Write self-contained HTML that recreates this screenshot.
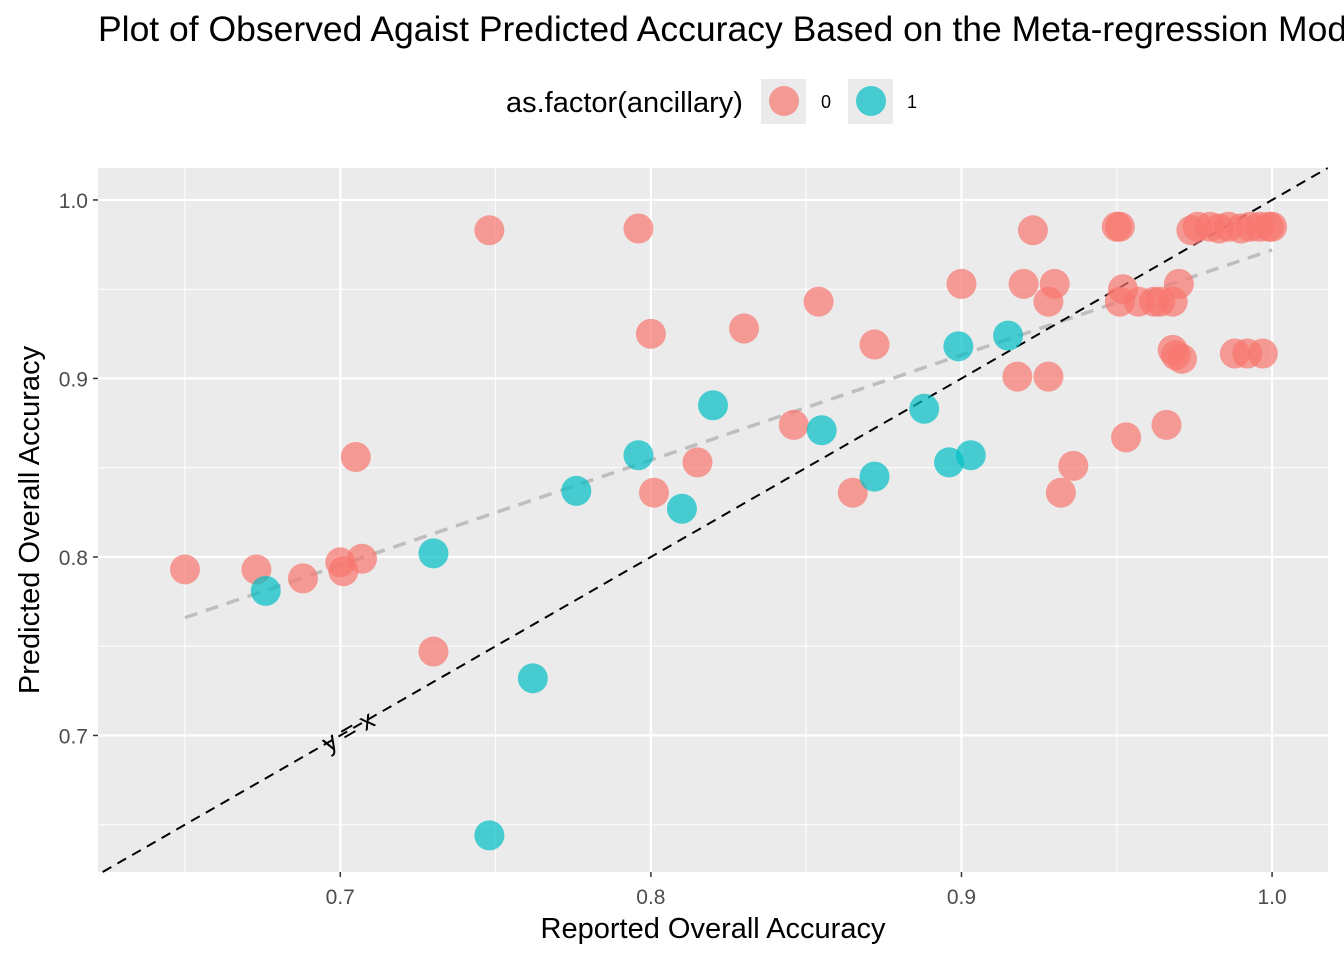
<!DOCTYPE html>
<html><head><meta charset="utf-8"><style>
body{margin:0;background:#fff;width:1344px;height:960px;overflow:hidden;font-family:"Liberation Sans",sans-serif;}
</style></head><body>
<svg id="chart" width="1344" height="960" xmlns="http://www.w3.org/2000/svg" font-family="Liberation Sans, sans-serif">
<text x="98" y="41" font-size="35.5" fill="#000">Plot of Observed Agaist Predicted Accuracy Based on the Meta-regression Model</text>
<g>
<text x="506" y="112" font-size="29" fill="#000">as.factor(ancillary)</text>
<rect x="761" y="79" width="45" height="45" fill="#ebebeb"/>
<circle cx="784" cy="101" r="15" fill="#F8766D" fill-opacity="0.7"/>
<text x="821" y="108" font-size="18">0</text>
<rect x="848" y="79" width="45" height="45" fill="#ebebeb"/>
<circle cx="871" cy="101" r="15" fill="#00BFC4" fill-opacity="0.7"/>
<text x="907" y="108" font-size="18">1</text>
</g>
<rect x="98" y="168" width="1230" height="704" fill="#ebebeb"/>
<g id="grid"></g><g id="lines"></g><g id="pts"></g><g id="axes"></g>
<text x="713" y="938" font-size="29" text-anchor="middle">Reported Overall Accuracy</text>
<text transform="translate(39,520) rotate(-90)" font-size="29" text-anchor="middle">Predicted Overall Accuracy</text>
</svg>
<script>
const xTicks=[0.7,0.8,0.9,1.0];
const yTicks=[0.7,0.8,0.9,1.0];
const xMinor=[0.65,0.75,0.85,0.95];
const yMinor=[0.65,0.75,0.85,0.95];
const redX=[0.650,0.673,0.688,0.700,0.701,0.707,0.705,0.730,0.748,0.796,0.800,0.801,0.830,0.846,0.815,0.854,0.865,0.872,0.900,0.918,0.920,0.923,0.928,0.928,0.930,0.932,0.936,0.950,0.951,0.951,0.952,0.953,0.957,0.962,0.964,0.966,0.968,0.969,0.971,0.970,0.968,0.974,0.976,0.980,0.983,0.986,0.990,0.993,0.996,0.999,1.000,0.988,0.992,0.997];
const redY=[0.793,0.793,0.788,0.797,0.792,0.799,0.856,0.747,0.983,0.984,0.925,0.836,0.928,0.874,0.853,0.943,0.836,0.919,0.953,0.901,0.953,0.983,0.943,0.901,0.953,0.836,0.851,0.985,0.985,0.943,0.950,0.867,0.943,0.943,0.943,0.874,0.916,0.913,0.911,0.953,0.943,0.983,0.985,0.985,0.984,0.985,0.984,0.985,0.985,0.985,0.985,0.914,0.914,0.914];
const tealX=[0.676,0.730,0.748,0.762,0.776,0.796,0.810,0.820,0.855,0.872,0.888,0.896,0.899,0.903,0.915];
const tealY=[0.781,0.802,0.644,0.732,0.837,0.857,0.827,0.885,0.871,0.845,0.883,0.853,0.918,0.857,0.924];
const fitX=[0.65,1.0];
const fitY=[0.766,0.972];
const X0=0.622,X1=1.018,Y0=0.6235,Y1=1.0179,L=98,R=1328,T=168,B=872;
const sx=v=>L+(v-X0)/(X1-X0)*(R-L);
const sy=v=>B-(v-Y0)/(Y1-Y0)*(B-T);
const NS='http://www.w3.org/2000/svg';
function mk(tag,parent,attrs){const e=document.createElementNS(NS,tag);for(const k in attrs)e.setAttribute(k,attrs[k]);document.getElementById(parent).appendChild(e);return e;}
xMinor.forEach(v=>{const e=mk('line','grid',{x1:sx(v),x2:sx(v),y1:T,y2:B,stroke:'#fff','stroke-width':1});

});
yMinor.forEach(v=>{const e=mk('line','grid',{x1:L,x2:R,y1:sy(v),y2:sy(v),stroke:'#fff','stroke-width':1});

});
xTicks.forEach(v=>{const e=mk('line','grid',{x1:sx(v),x2:sx(v),y1:T,y2:B,stroke:'#fff','stroke-width':2.2});


const t=mk('line','axes',{x1:sx(v),x2:sx(v),y1:B,y2:B+5,stroke:'#333','stroke-width':1.5});


const l=mk('text','axes',{x:sx(v),y:B+32,'font-size':21,fill:'#4d4d4d','text-anchor':'middle'});l.textContent=v.toFixed(1);

});
yTicks.forEach(v=>{const e=mk('line','grid',{x1:L,x2:R,y1:sy(v),y2:sy(v),stroke:'#fff','stroke-width':2.2});


const t=mk('line','axes',{x1:L-5,x2:L,y1:sy(v),y2:sy(v),stroke:'#333','stroke-width':1.5});


const l=mk('text','axes',{x:L-10,y:sy(v)+8,'font-size':21,fill:'#4d4d4d','text-anchor':'end'});l.textContent=v.toFixed(1);

});
const fl=mk('line','lines',{x1:sx(fitX[0]),y1:sy(fitY[0]),x2:sx(fitX[1]),y2:sy(fitY[1]),stroke:'#bebebe','stroke-width':3.5,'stroke-dasharray':'13 9'});


const lo=Math.max(X0,Y0),hi=Math.min(X1,Y1);
const id=mk('line','lines',{x1:sx(lo),y1:sy(lo),x2:sx(hi),y2:sy(hi),stroke:'#000','stroke-width':2,'stroke-dasharray':'10 7'});


const ang=-Math.atan((sy(0.7)-sy(0.8))/(sx(0.8)-sx(0.7)))*180/Math.PI;
const lb=mk('text','lines',{x:0,y:9,'font-size':26,fill:'#000','text-anchor':'middle',transform:`translate(${sx(0.7025)},${sy(0.7025)}) rotate(${ang})`});
lb.textContent='y = x';


redX.forEach((v,i)=>{const c=mk('circle','pts',{cx:sx(v),cy:sy(redY[i]),r:15,fill:'#F8766D','fill-opacity':0.7});

});
tealX.forEach((v,i)=>{const c=mk('circle','pts',{cx:sx(v),cy:sy(tealY[i]),r:15,fill:'#00BFC4','fill-opacity':0.7});

});
</script>
</body></html>
